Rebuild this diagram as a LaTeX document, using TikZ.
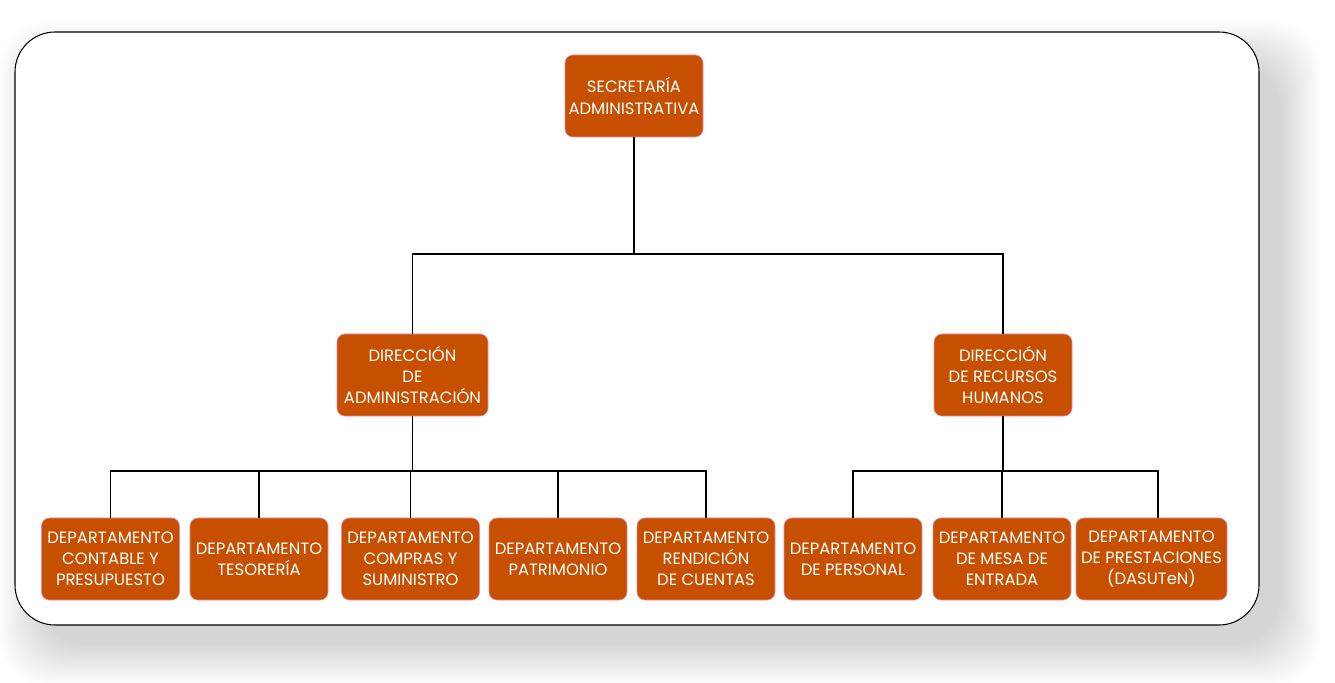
\documentclass[tikz,border=0pt]{standalone}
\usepackage{fontspec}
\setmainfont{Poppins}
\usetikzlibrary{positioning}
\definecolor{unitfill}{HTML}{C65000}
\definecolor{unitedge}{HTML}{EC86A6}

\begin{document}
\begin{tikzpicture}[x=0.03cm, y=-0.03cm,
  unit/.style={rectangle, rounded corners=0.24cm, fill=unitfill, draw=unitedge, line width=0.5pt,
    text=white, align=center, minimum width=4.14cm, minimum height=2.46cm, inner sep=1pt,
    font=\fontsize{14}{18}\selectfont},
  wide/.style={unit, minimum width=4.53cm},
  link/.style={line width=1.2pt}]
  \useasboundingbox (0,0) rectangle (1335,683);
  % sombra y marco
  \foreach \r in {0,2,...,40}
    \fill[black, opacity=0.006, rounded corners=1.4cm] (40-\r,62-\r) rectangle (1280+\r,645+\r);
  \draw[fill=white, line width=0.9pt, rounded corners=1.2cm] (15,32) rectangle (1259,625);

  % nivel 1
  \node[unit] (sec) at (634,96) {SECRETARÍA\\ADMINISTRATIVA};
  % nivel 2
  \node[wide] (dadm) at (412.5,375) {DIRECCIÓN\\DE\\ADMINISTRACIÓN};
  \node[unit] (drrhh) at (1003,375) {DIRECCIÓN\\DE RECURSOS\\HUMANOS};
  % nivel 3
  \node[unit] (contable) at (110.5,559) {DEPARTAMENTO\\CONTABLE Y\\PRESUPUESTO};
  \node[unit] (tesoreria) at (259,559) {DEPARTAMENTO\\TESORERÍA};
  \node[unit] (compras) at (410.5,559) {DEPARTAMENTO\\COMPRAS Y\\SUMINISTRO};
  \node[unit] (patrimonio) at (558,559) {DEPARTAMENTO\\PATRIMONIO};
  \node[unit] (rendicion) at (706,559) {DEPARTAMENTO\\RENDICIÓN\\DE CUENTAS};
  \node[unit] (personal) at (853,559) {DEPARTAMENTO\\DE PERSONAL};
  \node[unit] (mesa) at (1002,559) {DEPARTAMENTO\\DE MESA DE\\ENTRADA};
  \node[wide] (prestaciones) at (1151.5,559) {DEPARTAMENTO\\DE PRESTACIONES\\(DASUTeN)};

  % conexiones
  \coordinate (jsec) at (634,254);
  \coordinate (jadm) at (412.5,471);
  \coordinate (jrh) at (1003,471);
  \draw[link] (sec) -- (jsec);
  \draw[link] (dadm) |- (jsec);
  \draw[link] (drrhh) |- (jsec);
  \draw[link] (dadm) -- (jadm);
  \foreach \d in {contable,tesoreria,compras,patrimonio,rendicion}
    \draw[link] (\d) |- (jadm);
  \draw[link] (drrhh) -- (jrh);
  \foreach \d in {personal,mesa}
    \draw[link] (\d) |- (jrh);
  \draw[link] (prestaciones.north -| 1158,0) |- (jrh);
\end{tikzpicture}
\end{document}
